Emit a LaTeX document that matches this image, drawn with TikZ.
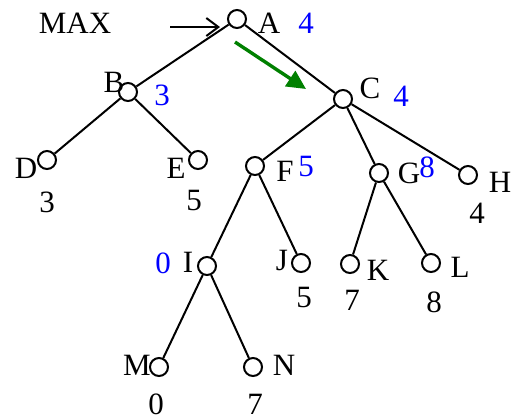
\documentclass[tikz,border=0pt]{standalone}
\usepackage{fontspec}
\setmainfont{Liberation Serif}
\usetikzlibrary{arrows.meta}
\begin{document}
\begin{tikzpicture}[x=0.5pt, y=-0.5pt, font=\fontsize{15.5}{18}\selectfont]
        \tikzstyle{state} = [circle, draw, line width=1pt, minimum size=9pt, inner sep=0pt]
        \tikzstyle{lbl} = [anchor=base, inner sep=0pt]
        \tikzstyle{score} = [lbl, text=blue]
        \tikzstyle{line} = [draw, line width=1pt]
        \useasboundingbox (0,0) rectangle (513,419);
        % positions
        \node [state] (a) at (237,19) {};
        \node [state] (b) at (128,92) {};
        \node [state] (c) at (343,99) {};
        \node [state] (d) at (47,160) {};
        \node [state] (e) at (198,160) {};
        \node [state] (f) at (255,166) {};
        \node [state] (g) at (379,173) {};
        \node [state] (h) at (468,175) {};
        \node [state] (i) at (207,266) {};
        \node [state] (j) at (301,263) {};
        \node [state] (k) at (350,264) {};
        \node [state] (l) at (431,263) {};
        \node [state] (m) at (159,367) {};
        \node [state] (n) at (253,367) {};
        % names
        \node [lbl] (max) at (75,33) {MAX};
        \node [lbl] (na) at (269,33) {A};
        \node [lbl] (nb) at (114,92) {B};
        \node [lbl] (nc) at (370,98) {C};
        \node [lbl] (nd) at (26,178) {D};
        \node [lbl] (ne) at (176,178) {E};
        \node [lbl] (nf) at (285,181) {F};
        \node [lbl] (ng) at (409,183) {G};
        \node [lbl] (nh) at (500,192) {H};
        \node [lbl] (ni) at (188,272) {I};
        \node [lbl] (nj) at (282,270) {J};
        \node [lbl] (nk) at (378,280) {K};
        \node [lbl] (nl) at (460,277) {L};
        \node [lbl] (nm) at (137,375) {M};
        \node [lbl] (nn) at (284,375) {N};
        % backed up values
        \node [score] (va) at (306,33) {4};
        \node [score] (vb) at (162,105) {3};
        \node [score] (vc) at (401,106) {4};
        \node [score] (vf) at (306,176) {5};
        \node [score] (vg) at (427,177) {8};
        \node [score] (vi) at (163,273) {0};
        % leaf values
        \node [lbl] (vd) at (47,212) {3};
        \node [lbl] (ve) at (194,210) {5};
        \node [lbl] (vh) at (477,223) {4};
        \node [lbl] (vj) at (304,307) {5};
        \node [lbl] (vk) at (352,310) {7};
        \node [lbl] (vl) at (434,312) {8};
        \node [lbl] (vm) at (156,414) {0};
        \node [lbl] (vn) at (255,414) {7};
        % tree
        \path [line] (a) -- (b);
        \path [line] (a) -- (c);
        \path [line] (b) -- (d);
        \path [line] (b) -- (e);
        \path [line] (c) -- (f);
        \path [line] (c) -- (g);
        \path [line] (c) -- (h);
        \path [line] (f) -- (i);
        \path [line] (f) -- (j);
        \path [line] (g) -- (k);
        \path [line] (g) -- (l);
        \path [line] (i) -- (m);
        \path [line] (i) -- (n);
        % arrows
        \coordinate (maxtail) at (170,27);
        \coordinate (maxtip) at (220,27);
        \path [line, -{Straight Barb[length=6pt,width=9pt]}] (maxtail) -- (maxtip);
        \coordinate (best0) at (235,42);
        \coordinate (best1) at (306,89);
        \draw [green!50!black, line width=1.7pt, -{Triangle[length=9.5pt,width=9pt]}] (best0) -- (best1);
    \end{tikzpicture}
\end{document}
